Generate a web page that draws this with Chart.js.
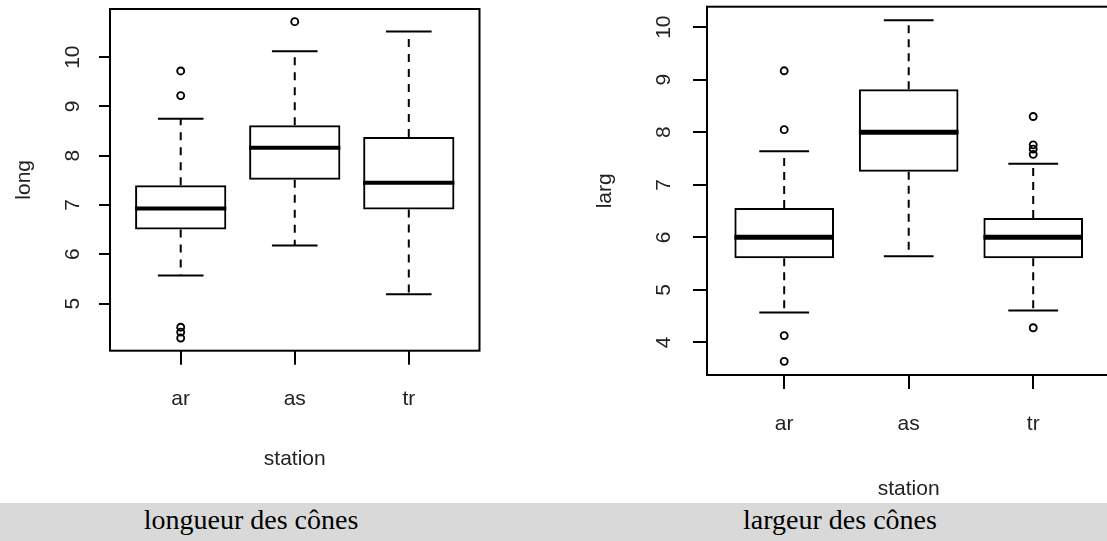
<!DOCTYPE html>
<html>
<head>
<meta charset="utf-8">
<script src="https://cdn.jsdelivr.net/npm/chart.js@4.4.1/dist/chart.umd.min.js"></script>
<style>
  html, body { margin: 0; padding: 0; background: #fff; width: 1107px; height: 541px; overflow: hidden; position: relative; }
  #paneLong { position: absolute; left: 0; top: 0; width: 540px; height: 503px; }
  #paneLarg { position: absolute; left: 540px; top: 0; width: 580px; height: 503px; }
  #captions { position: absolute; left: 0; top: 503px; width: 1107px; height: 38px; background: #d9d9d9;
              font-family: "Liberation Serif", "Times New Roman", serif; font-size: 28px; color: #000; }
  #captions span { position: absolute; top: 0; line-height: 34px; transform: translateX(-50%); white-space: nowrap; }
</style>
</head>
<body>
<div id="paneLong"><canvas id="chartLong" width="540" height="503"></canvas></div>
<div id="paneLarg"><canvas id="chartLarg" width="580" height="503"></canvas></div>
<div id="captions">
  <span style="left:251px">longueur des cônes</span>
  <span style="left:840px">largeur des cônes</span>
</div>
<script>
// Stations (groups on the x axis)
const stations = ['ar', 'as', 'tr'];

// Cone length ("long") – box statistics per station
const longQ1 = [6.50, 7.51, 6.91];
const longMedian = [6.93, 8.16, 7.45];
const longQ3 = [7.40, 8.62, 8.38];
const longWhiskerLow = [5.57, 6.18, 5.19];
const longWhiskerHigh = [8.75, 10.12, 10.52];
const longOutliers = [[9.72, 9.22, 4.52, 4.42, 4.30], [10.72], []];
const longTicks = [5, 6, 7, 8, 9, 10];

// Cone width ("larg") – box statistics per station
const largQ1 = [5.60, 7.25, 5.60];
const largMedian = [6.00, 8.00, 6.00];
const largQ3 = [6.56, 8.82, 6.37];
const largWhiskerLow = [4.57, 5.64, 4.61];
const largWhiskerHigh = [7.64, 10.13, 7.40];
const largOutliers = [[9.17, 8.05, 4.13, 3.64], [], [8.30, 7.76, 7.68, 7.58, 4.28]];
const largTicks = [4, 5, 6, 7, 8, 9, 10];

const TEXT = '#222';
const SANS = '"Liberation Sans", Arial, Helvetica, sans-serif';
const FONT_SIZE = 21;

// Build the datasets of one box plot: boxes, dashed whiskers, staples, medians, outliers
function boxPlotDatasets(q1, med, q3, lo, hi, outliers, st) {
  const sets = [];
  sets.push({
    type: 'bar',
    data: stations.map((_, i) => ({ x: i + 1, y: [q1[i], q3[i]] })),
    backgroundColor: 'rgba(0,0,0,0)',
    borderColor: '#000',
    borderWidth: 2,
    borderSkipped: false,
    barPercentage: 0.8,
    categoryPercentage: 1,
    order: 1
  });
  const seg = (pts, extra) => Object.assign({
    type: 'line', data: pts, borderColor: '#000', borderWidth: 2,
    pointRadius: 0, fill: false, tension: 0, order: 2
  }, extra || {});
  stations.forEach((_, i) => {
    const x = i + 1;
    sets.push(seg([{ x, y: q3[i] }, { x, y: hi[i] }], { borderDash: st.dash }));
    sets.push(seg([{ x, y: q1[i] }, { x, y: lo[i] }], { borderDash: st.dash }));
    sets.push(seg([{ x: x - 0.2, y: hi[i] }, { x: x + 0.2, y: hi[i] }]));
    sets.push(seg([{ x: x - 0.2, y: lo[i] }, { x: x + 0.2, y: lo[i] }]));
    sets.push(seg([{ x: x - 0.4, y: med[i] }, { x: x + 0.4, y: med[i] }],
      { borderWidth: st.medianWidth, order: 0, borderCapStyle: 'butt' }));
  });
  sets.push({
    type: 'scatter',
    data: outliers.flatMap((vals, i) => vals.map(v => ({ x: i + 1, y: v }))),
    pointStyle: 'circle', pointRadius: 3.5, borderWidth: 1.9,
    borderColor: '#000', backgroundColor: 'rgba(0,0,0,0)', order: 0
  });
  return sets;
}

// Closed frame around the plotting region
const framePlugin = {
  id: 'frame',
  afterDatasetsDraw(chart) {
    const { ctx, chartArea: a } = chart;
    ctx.save();
    ctx.strokeStyle = '#000';
    ctx.lineWidth = 2;
    ctx.strokeRect(a.left, a.top, a.right - a.left, a.bottom - a.top);
    ctx.restore();
  }
};

// Keep the plotting region exactly where the layout padding puts it
function noLabelPadding(s) {
  s.paddingTop = 0; s.paddingBottom = 0; s.paddingLeft = 0; s.paddingRight = 0;
}

function makeBoxPlot(canvasId, stats, yTicks, yTitle, st) {
  const all = [...stats.lo, ...stats.hi, ...stats.outliers.flat()];
  const dMin = Math.min(...all), dMax = Math.max(...all);
  const pad = (dMax - dMin) * 0.04;
  return new Chart(document.getElementById(canvasId), {
    type: 'bar',
    data: { datasets: boxPlotDatasets(stats.q1, stats.med, stats.q3, stats.lo, stats.hi, stats.outliers, st) },
    plugins: [framePlugin],
    options: {
      responsive: false,
      animation: false,
      events: [],
      layout: { padding: st.padding },
      plugins: { legend: { display: false }, tooltip: { enabled: false } },
      scales: {
        x: {
          type: 'linear',
          min: 0.38, max: 3.62,
          offset: false,
          border: { display: false },
          grid: { offset: false, drawOnChartArea: false, drawTicks: true, tickLength: st.xTickLen, color: '#000', lineWidth: 2 },
          afterBuildTicks: s => { s.ticks = stations.map((_, i) => ({ value: i + 1 })); },
          afterFit: s => { s.height = st.xHeight; noLabelPadding(s); },
          ticks: {
            autoSkip: false, maxRotation: 0, color: TEXT, padding: st.xTickPad,
            font: { family: SANS, size: FONT_SIZE },
            callback: v => stations[v - 1]
          },
          title: { display: true, text: 'station', color: TEXT, font: { family: SANS, size: FONT_SIZE },
                   padding: { top: 0, bottom: st.xTitlePad } }
        },
        y: {
          type: 'linear',
          min: dMin - pad, max: dMax + pad,
          border: { display: false },
          grid: { drawOnChartArea: false, drawTicks: true, tickLength: st.yTickLen, color: '#000', lineWidth: 2 },
          afterBuildTicks: s => { s.ticks = yTicks.map(v => ({ value: v })); },
          afterFit: s => { s.width = st.yWidth; noLabelPadding(s); },
          ticks: {
            color: TEXT, padding: st.yTickPad, minRotation: 90, maxRotation: 90, crossAlign: 'center',
            font: { family: SANS, size: FONT_SIZE }
          },
          title: { display: true, text: yTitle, color: TEXT, font: { family: SANS, size: FONT_SIZE },
                   padding: { top: st.yTitlePad, bottom: 0 } }
        }
      }
    }
  });
}

makeBoxPlot('chartLong',
  { q1: longQ1, med: longMedian, q3: longQ3, lo: longWhiskerLow, hi: longWhiskerHigh, outliers: longOutliers },
  longTicks, 'long',
  { dash: [8, 7], medianWidth: 4, padding: { left: 0, top: 9, right: 60.5, bottom: 0 },
    xHeight: 152.3, yWidth: 110, xTickLen: 14, yTickLen: 11, xTickPad: 22, yTickPad: 14,
    xTitlePad: 31, yTitlePad: 12 });

makeBoxPlot('chartLarg',
  { q1: largQ1, med: largMedian, q3: largQ3, lo: largWhiskerLow, hi: largWhiskerHigh, outliers: largOutliers },
  largTicks, 'larg',
  { dash: [8, 6], medianWidth: 5, padding: { left: 0, top: 6.7, right: 9.6, bottom: 0 },
    xHeight: 128, yWidth: 167, xTickLen: 14, yTickLen: 14, xTickPad: 23, yTickPad: 17,
    xTitlePad: 1, yTitlePad: 53 });
</script>
</body>
</html>
